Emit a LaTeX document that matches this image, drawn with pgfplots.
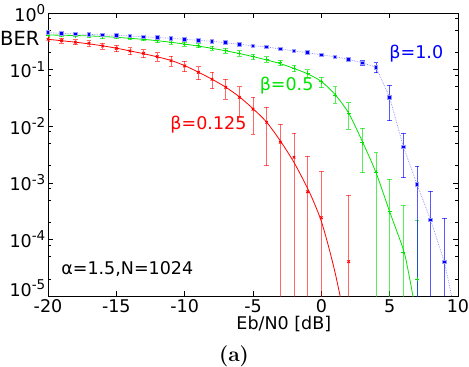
\documentclass[border=0pt]{standalone}
\usepackage{pgfplots}
\pgfplotsset{compat=1.18}
\usepackage{pgfplotstable}
\usepackage{fontspec}
\newfontfamily\dejavu{DejaVu Sans}
\definecolor{cred}{rgb}{1,0,0}
\definecolor{cgreen}{rgb}{0,0.9,0}
\definecolor{cblue}{rgb}{0,0,1}
\newcommand{\sps}[1]{\raisebox{6.5pt}{\fontsize{13.5}{14}\selectfont #1}}

\pgfplotstableread{
x y ep em
-20 0.343 0.031 0.031
-19 0.324 0.031 0.031
-18 0.304 0.031 0.031
-17 0.292 0.031 0.031
-16 0.261 0.031 0.031
-15 0.238 0.031 0.031
-14 0.213 0.031 0.031
-13 0.194 0.031 0.031
-12 0.169 0.029 0.029
-11 0.144 0.030 0.030
-10 0.116 0.025 0.025
-9 0.0896 0.0235 0.0235
-8 0.0674 0.0225 0.0215
-7 0.0487 0.019 0.0185
-6 0.0324 0.0174 0.0173
-5 0.0199 0.0126 0.0127
-4 0.0117 0.0098 0.0097
-3 0.0052 0.0056 0.005195
-2 0.00282 0.00468 0.002817
-1 0.000696 0.002284 0.000695
0 0.000242 0.001374 0.0002418
2 0.0000404 0.000569 0.00004036
}\tred

\pgfplotstableread{
x y ep em
-20 0.409 0.022 0.022
-19 0.405 0.022 0.022
-18 0.400 0.022 0.022
-17 0.395 0.022 0.022
-16 0.383 0.022 0.022
-15 0.372 0.022 0.022
-14 0.357 0.022 0.022
-13 0.343 0.022 0.022
-12 0.323 0.022 0.022
-11 0.304 0.022 0.022
-10 0.280 0.022 0.022
-9 0.264 0.020 0.020
-8 0.238 0.020 0.020
-7 0.216 0.020 0.020
-6 0.194 0.020 0.020
-5 0.169 0.020 0.020
-4 0.152 0.017 0.016
-3 0.132 0.016 0.015
-2 0.105 0.015 0.014
-1 0.086 0.014 0.012
0 0.0611 0.013 0.013
1 0.0356 0.0143 0.0102
2 0.0171 0.0089 0.0083
3 0.0051 0.0041 0.0036
4 0.00153 0.00187 0.001528
5 0.000309 0.00084 0.000308
6 0.000059 0.00034 0.0000589
7 0.000020 0.000197 0.00001998
}\tgreen

\pgfplotstableread{
x y ep em
-20 0.449 0.010 0.010
-19 0.438 0.010 0.010
-18 0.426 0.010 0.010
-17 0.420 0.010 0.010
-16 0.409 0.010 0.010
-15 0.404 0.010 0.010
-14 0.392 0.010 0.010
-13 0.381 0.010 0.010
-12 0.369 0.010 0.010
-11 0.357 0.010 0.010
-10 0.343 0.010 0.010
-9 0.329 0.010 0.010
-8 0.316 0.010 0.010
-7 0.299 0.010 0.010
-6 0.280 0.010 0.010
-5 0.264 0.010 0.010
-4 0.251 0.010 0.010
-3 0.231 0.010 0.010
-2 0.213 0.010 0.010
-1 0.199 0.010 0.010
0 0.183 0.010 0.010
1 0.169 0.010 0.010
2 0.151 0.010 0.010
3 0.132 0.012 0.012
4 0.110 0.022 0.022
5 0.0324 0.0205 0.0200
6 0.00434 0.0031 0.0031
7 0.00094 0.00104 0.000939
8 0.00022 0.000496 0.0002198
9 0.000040 0.000196 0.00003996
}\tblue

\pgfplotstableread{
x y
-20 0.343
-19 0.324
-18 0.305
-17 0.285
-16 0.263
-15 0.239
-14 0.214
-13 0.191
-12 0.168
-11 0.145
-10 0.1175
-9 0.0902
-8 0.0676
-7 0.049
-6 0.0331
-5 0.0204
-4 0.01175
-3 0.0055
-2 0.00229
-1 0.000794
-0.5 0.000427
0 0.000209
0.5 0.0000794
1 0.0000263
1.5 0.00000708
2 0.00000158
}\redcurve

\pgfplotstableread{
x y
-20 0.409
-19 0.405
-18 0.400
-17 0.394
-16 0.384
-15 0.372
-14 0.357
-13 0.342
-12 0.324
-11 0.304
-10 0.2825
-9 0.260
-8 0.2377
-7 0.2148
-6 0.1923
-5 0.1698
-4 0.1479
-3 0.1274
-2 0.1047
-1 0.0841
0 0.0617
1 0.0363
2 0.0170
3 0.00537
4 0.00151
5 0.000309
6 0.0000661
6.35 0.0000282
6.7 0.0000100
7 0.00000355
}\greencurve

\pgfplotstableread{
x y
-20 0.449
-19 0.438
-18 0.426
-17 0.420
-16 0.409
-15 0.404
-14 0.392
-13 0.381
-12 0.369
-11 0.357
-10 0.343
-9 0.329
-8 0.316
-7 0.299
-6 0.280
-5 0.264
-4 0.251
-3 0.231
-2 0.213
-1 0.199
0 0.183
1 0.169
2 0.151
3 0.132
4 0.110
5 0.0324
6 0.00434
7 0.00094
8 0.00022
9 0.000040
10 0.000003
}\bluecurve

\begin{document}
\begin{tikzpicture}[font=\dejavu\fontsize{17.5}{20}\selectfont]
\begin{axis}[
  scale only axis, width=410pt, height=283pt,
  xmin=-20, xmax=10, ymode=log, ymin=1e-5, ymax=1,
  xtick={-20,-15,-10,-5,0,5,10},
  xticklabels={-20,-15,-10,-5,0,5,10},
  ytick={1e-5,1e-4,1e-3,1e-2,1e-1,1},
  yticklabels={\raisebox{0pt}[0pt][0pt]{10\sps{-5}},10\sps{-4},10\sps{-3},10\sps{-2},10\sps{-1},10\sps{0}},
  minor ytick={2e-5,5e-5,8e-5,2e-4,5e-4,8e-4,2e-3,5e-3,8e-3,2e-2,5e-2,8e-2,0.2,0.5,0.8},
  tick align=inside,
  major tick length=5pt, minor tick length=2.7pt,
  tick style={black, line width=0.6pt},
  axis line style={black, line width=0.9pt},
  xticklabel style={inner sep=0pt, yshift=-3.5pt, anchor=north},
  yticklabel style={inner sep=0pt, xshift=-2.5pt, anchor=east},
]
\addplot[cred, line width=0.8pt, smooth, no marks] table[x=x,y=y] {\redcurve};
\addplot[cgreen, line width=0.8pt, smooth, no marks] table[x=x,y=y] {\greencurve};
\addplot[cblue!45, densely dotted, line width=0.7pt, no marks] table[x=x,y=y] {\bluecurve};

\addplot[only marks, mark=x, mark size=1.8pt, mark options={cred, line width=0.9pt},
  error bars/.cd, y dir=both, y explicit, error mark=-,
  error bar style={cred, opacity=0.6, line width=0.9pt},
  error mark options={rotate=90, cred, opacity=0.6, line width=0.9pt, mark size=2.4pt}]
  table[x=x, y=y, y error plus=ep, y error minus=em] {\tred};

\addplot[only marks, mark=+, mark size=2pt, mark options={cgreen, line width=0.9pt},
  error bars/.cd, y dir=both, y explicit, error mark=-,
  error bar style={cgreen, opacity=0.65, line width=0.9pt},
  error mark options={rotate=90, cgreen, opacity=0.65, line width=0.9pt, mark size=2.4pt}]
  table[x=x, y=y, y error plus=ep, y error minus=em] {\tgreen};

\addplot[only marks, mark=square*, mark size=1.8pt, mark options={fill=cblue, draw=cblue!40, line width=0.8pt},
  error bars/.cd, y dir=both, y explicit, error mark=-,
  error bar style={cblue, opacity=0.65, line width=0.9pt},
  error mark options={rotate=90, cblue, opacity=0.65, line width=0.9pt, mark size=2.4pt}]
  table[x=x, y=y, y error plus=ep, y error minus=em] {\tblue};

\node[text=cred] at (axis cs:-8.26,0.0105) {β=0.125};
\node[text=cgreen] at (axis cs:-2.54,0.0518) {β=0.5};
\node[text=cblue] at (axis cs:6.95,0.1887) {β=1.0};
\node at (axis cs:-14.2,3.0e-5) {α=1.5,N=1024};
\end{axis}
\node[anchor=west, inner sep=0pt, font=\dejavu\fontsize{19.5}{21}\selectfont] at (-48pt,257.7pt) {BER};
\node[inner sep=0pt] at (235.8pt,-28pt) {Eb/N0 [dB]};
\node[inner sep=0pt, font=\normalfont\fontsize{21}{22}\selectfont\bfseries] at (186pt,-60pt) {(a)};
\pgfresetboundingbox
\useasboundingbox (-48pt,-71pt) rectangle (421pt,296pt);
\end{tikzpicture}
\end{document}
